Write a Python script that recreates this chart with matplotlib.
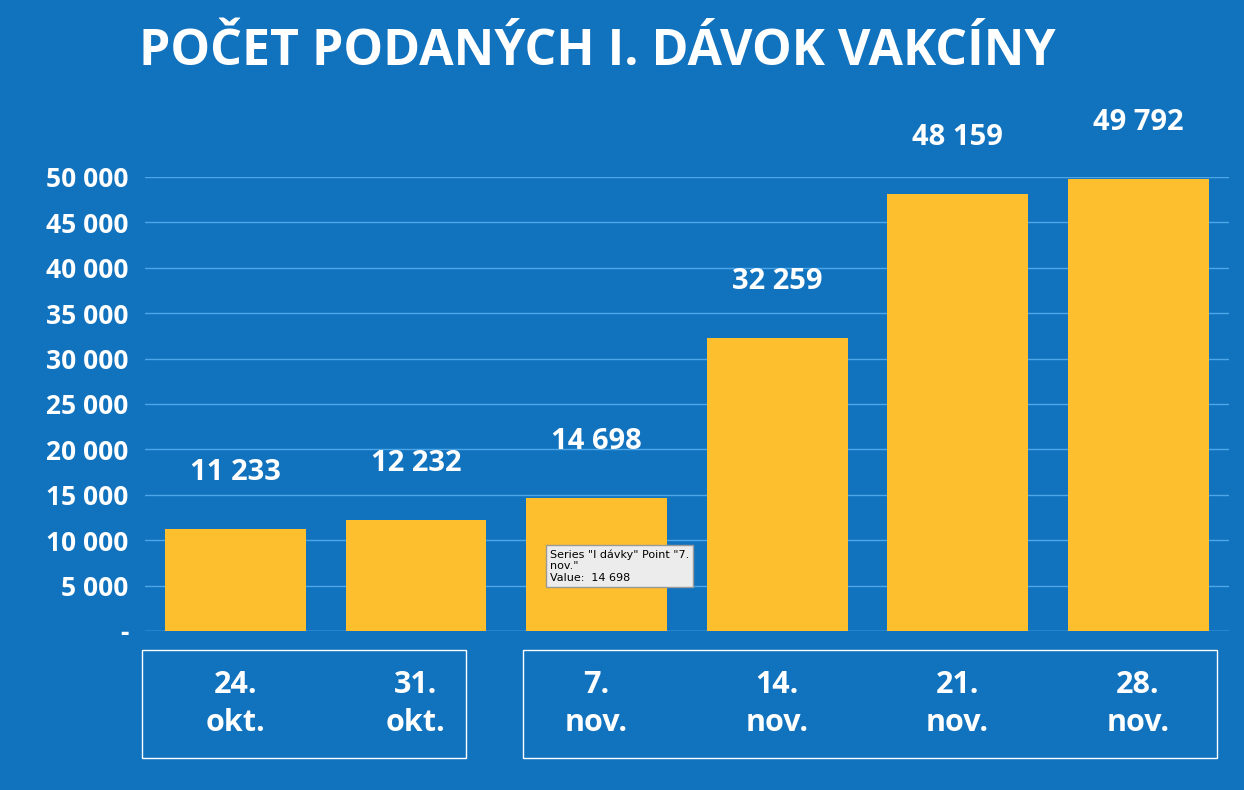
import matplotlib.pyplot as plt
from matplotlib.patches import Rectangle

categories = ["24.\nokt.", "31.\nokt.", "7.\nnov.", "14.\nnov.", "21.\nnov.", "28.\nnov."]
values = [11233, 12232, 14698, 32259, 48159, 49792]
ticks = [0, 5000, 10000, 15000, 20000, 25000, 30000, 35000, 40000, 45000, 50000]

bg = "#1172be"
plt.rcParams['font.family'] = ['Open Sans', 'DejaVu Sans']

def fmt(v):
    return "-" if v == 0 else "{:,}".format(v).replace(",", " ")

fig = plt.figure(figsize=(12.44, 7.9), dpi=100, facecolor=bg)
ax = fig.add_axes([0.1166, 0.2013, 0.871, 0.5747], facecolor=bg)
x = range(len(values))
ax.bar(x, values, width=0.78, color="#fdbf2d", zorder=3)
ax.set_xlim(-0.5, len(values) - 0.5)
ax.set_ylim(0, 50000)
ax.set_yticks(ticks)
ax.set_yticklabels([fmt(t) for t in ticks], color="white", fontsize=19, fontweight="bold")
ax.tick_params(axis="y", length=0, pad=12)
ax.set_xticks([])
ax.grid(axis="y", color="#4ea6e6", linewidth=1, zorder=0)
for s in ax.spines.values():
    s.set_visible(False)
ax.axhline(0, color="#4ea6e6", linewidth=1)

for i, v in enumerate(values):
    ax.annotate(fmt(v), (i, v), xytext=(0, 30), textcoords="offset points",
                ha="center", va="bottom", color="white", fontsize=21,
                fontweight="bold", annotation_clip=False)

# category labels below the axis
for i, c in enumerate(categories):
    fig.text((145 + 180.5 * (i + 0.5)) / 1244, 1 - 704 / 790, c, ha="center", va="center",
             color="white", fontsize=22, fontweight="bold", linespacing=1.35)

# boxes around the category groups
for x0, x1 in [(142, 466), (523, 1217)]:
    fig.patches.append(Rectangle((x0 / 1244, 1 - 758 / 790), (x1 - x0) / 1244, 108 / 790,
                                 transform=fig.transFigure, fill=False,
                                 edgecolor="white", linewidth=1))

fig.text(597 / 1244, 1 - 52 / 790, "POČET PODANÝCH I. DÁVOK VAKCÍNY", ha="center",
         va="center", color="white", fontsize=36, fontweight="bold")

# tooltip from the screenshot
fig.text(550 / 1244, 1 - 549 / 790, 'Series "I dávky" Point "7.\nnov."\nValue:  14 698',
         ha="left", va="top", fontsize=8, color="black", family=["DejaVu Sans"],
         bbox=dict(boxstyle="square,pad=0.35", facecolor="#ececec", edgecolor="#999999"))

fig.savefig("out.png", dpi=100, facecolor=bg)
